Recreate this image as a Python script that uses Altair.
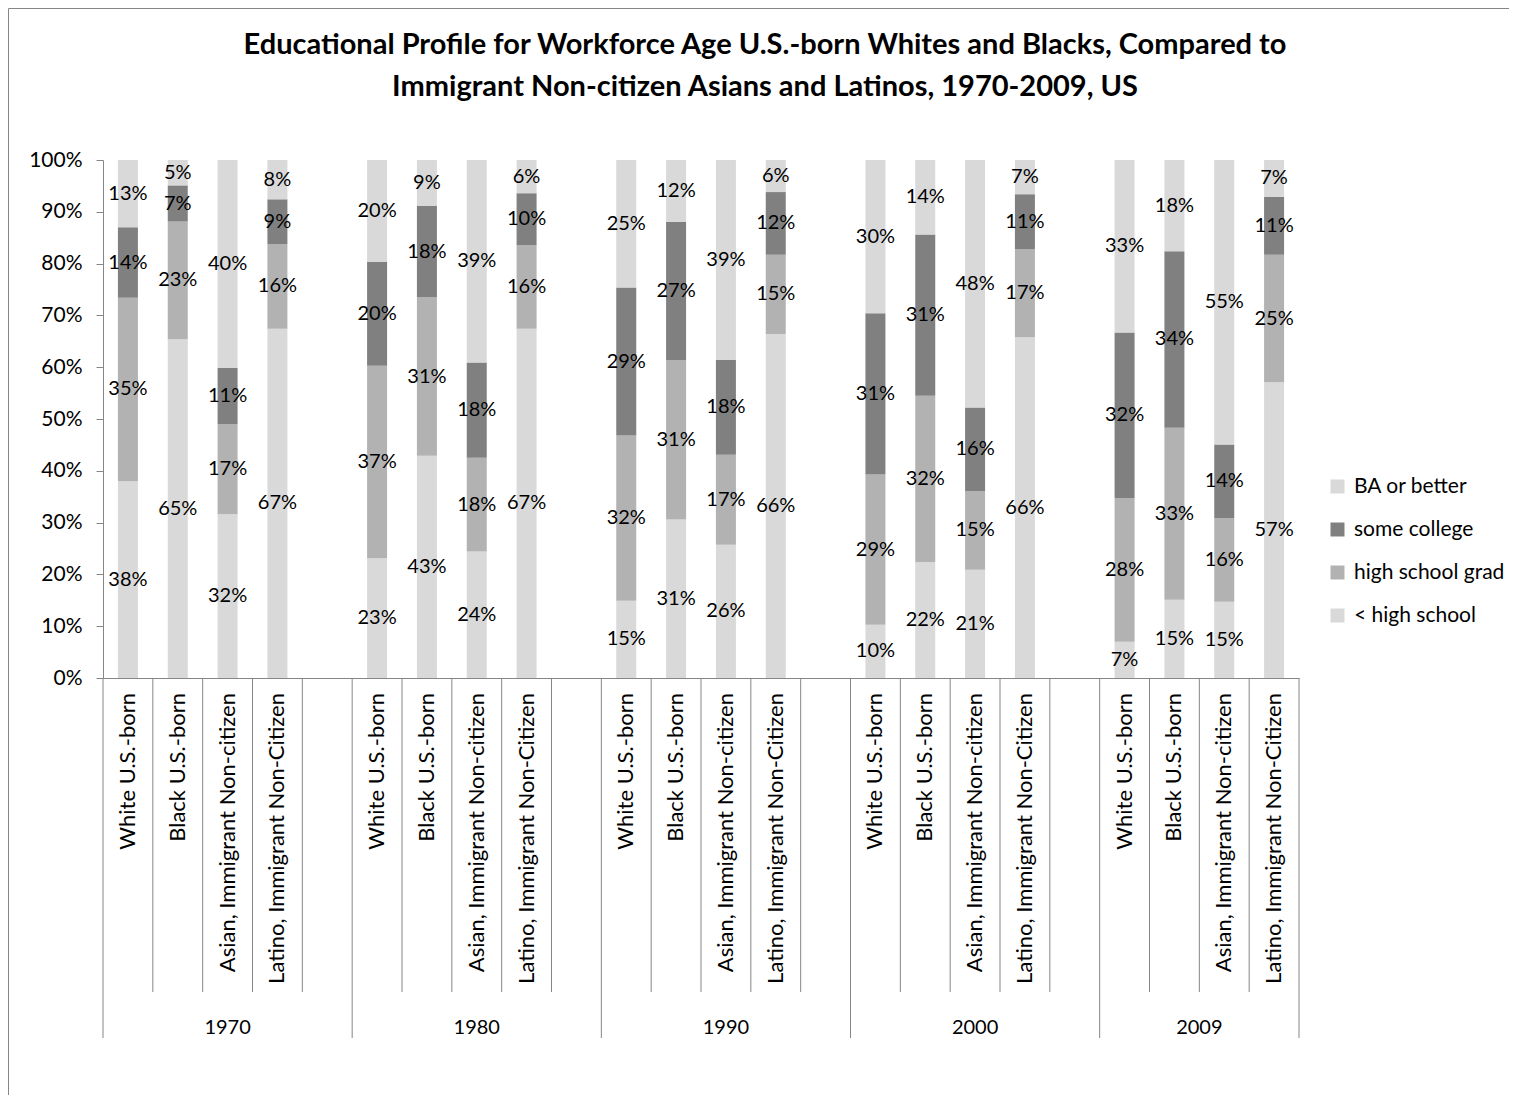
import altair as alt
import pandas as pd

years = ["1970", "1980", "1990", "2000", "2009"]
categories = [
    "White U.S.-born",
    "Black U.S.-born",
    "Asian, Immigrant Non-citizen",
    "Latino, Immigrant Non-Citizen",
]
levels = ["< high school", "high school grad", "some college", "BA or better"]
legend_order = ["BA or better", "some college", "high school grad", "< high school"]
legend_colors = ["#d9d9d9", "#808080", "#b2b2b2", "#d9d9d9"]

# values (%) per bar, order: year-major, category-minor
lt_high_school = [38.0, 65.4, 31.6, 67.4, 23.1, 42.9, 24.4, 67.4, 14.9, 30.6,
                  25.7, 66.4, 10.3, 22.4, 20.9, 65.8, 7.0, 15.1, 14.7, 57.1]
high_school_grad = [35.4, 22.7, 17.4, 16.4, 37.2, 30.6, 18.1, 16.2, 31.9, 30.8,
                    17.4, 15.3, 29.0, 32.1, 15.2, 17.0, 27.7, 33.2, 16.2, 24.6]
some_college = [13.6, 7.0, 10.9, 8.6, 20.0, 17.6, 18.4, 10.0, 28.6, 26.7,
                18.3, 12.1, 31.1, 31.1, 16.1, 10.6, 32.0, 34.1, 14.2, 11.2]
ba_or_better = [13.0, 4.9, 40.1, 7.6, 19.7, 8.9, 39.1, 6.4, 24.6, 11.9,
                38.6, 6.2, 29.6, 14.4, 47.8, 6.6, 33.3, 17.6, 54.9, 7.1]

# slots per year group on the category axis (last group has no spacer slot)
group_slots = [5, 5, 5, 5, 4]

rows, cat_rows, year_rows, inner_rows, outer_rows = [], [], [], [], []
offset = 0
for gi, yr in enumerate(years):
    n = group_slots[gi]
    outer_rows.append({"pos": offset})
    for b in range(1, n):
        inner_rows.append({"pos": offset + b})
    year_rows.append({"pos": offset + n / 2, "year": yr})
    for ci, cat in enumerate(categories):
        k = gi * 4 + ci
        slot = offset + ci + 0.5
        cat_rows.append({"pos": slot, "category": cat})
        vals = [lt_high_school[k], high_school_grad[k], some_college[k], ba_or_better[k]]
        start = 0.0
        for lvl, v in zip(levels, vals):
            rows.append({
                "pos": slot, "level": lvl,
                "start": start / 100, "end": (start + v) / 100,
                "mid": (start + v / 2) / 100, "label": f"{round(v)}%",
            })
            start += v
    offset += n
outer_rows.append({"pos": offset})
total_slots = offset

df = pd.DataFrame(rows)
GRAY = "#868686"
FONT = "Lato"
xs = alt.Scale(domain=[0, total_slots], nice=False, zero=False, padding=0)

bars = alt.Chart(df).mark_bar(size=20).encode(
    x=alt.X("pos:Q", scale=xs, axis=alt.Axis(labels=False, ticks=False, grid=False,
                                             title=None, domainColor=GRAY)),
    y=alt.Y("start:Q", scale=alt.Scale(domain=[0, 1], nice=False),
            axis=alt.Axis(format=".0%", values=[i / 10 for i in range(11)], grid=False,
                          title=None, domainColor=GRAY, tickColor=GRAY, tickSize=7,
                          labelFontSize=21, labelFont=FONT, labelColor="black",
                          labelPadding=14)),
    y2="end:Q",
    color=alt.Color("level:N", scale=alt.Scale(domain=legend_order, range=legend_colors),
                    legend=alt.Legend(title=None, orient="none", legendX=1224, legendY=316,
                                      symbolType="square", symbolSize=196,
                                      symbolStrokeWidth=0, labelFontSize=21,
                                      labelFont=FONT, labelColor="black",
                                      labelOffset=6, rowPadding=21, padding=0)),
)

labels = alt.Chart(df).mark_text(fontSize=20, font=FONT, color="black").encode(
    x=alt.X("pos:Q", scale=xs), y=alt.Y("mid:Q"), text="label:N"
)

inner = alt.Chart(pd.DataFrame(inner_rows)).mark_rule(color=GRAY).encode(
    x=alt.X("pos:Q", scale=xs), y=alt.value(518), y2=alt.value(832)
)
outer = alt.Chart(pd.DataFrame(outer_rows)).mark_rule(color=GRAY).encode(
    x=alt.X("pos:Q", scale=xs), y=alt.value(518), y2=alt.value(878)
)
cat_text = alt.Chart(pd.DataFrame(cat_rows)).mark_text(
    angle=270, align="right", baseline="middle", fontSize=22, font=FONT, color="black"
).encode(x=alt.X("pos:Q", scale=xs), y=alt.value(533), text="category:N")
year_text = alt.Chart(pd.DataFrame(year_rows)).mark_text(
    fontSize=20, font=FONT, color="black"
).encode(x=alt.X("pos:Q", scale=xs), y=alt.value(868), text="year:N")

border_left = alt.Chart(pd.DataFrame({"k": [0]})).mark_rule(color=GRAY).encode(
    x=alt.value(-94.5), y=alt.value(-151.5), y2=alt.value(936)
)
border_top = alt.Chart(pd.DataFrame({"k": [0]})).mark_rule(color=GRAY).encode(
    x=alt.value(-94.5), x2=alt.value(1406), y=alt.value(-151.5)
)

chart = alt.layer(
    bars, labels, inner, outer, cat_text, year_text, border_left, border_top
).properties(
    width=1196,
    height=518,
    autosize=alt.AutoSizeParams(type="none"),
    padding={"left": 95, "top": 152, "right": 210, "bottom": 417},
    title=alt.TitleParams(
        text=[
            "Educational Profile for Workforce Age U.S.-born Whites and Blacks, Compared to",
            "Immigrant Non-citizen Asians and Latinos, 1970-2009, US",
        ],
        fontSize=29, font=FONT, fontWeight="bold", color="black",
        anchor="middle", dx=64, offset=-94, lineHeight=42,
    ),
).configure_view(stroke=None)

chart.save("out.html", embed_options={"renderer": "svg", "actions": False})
